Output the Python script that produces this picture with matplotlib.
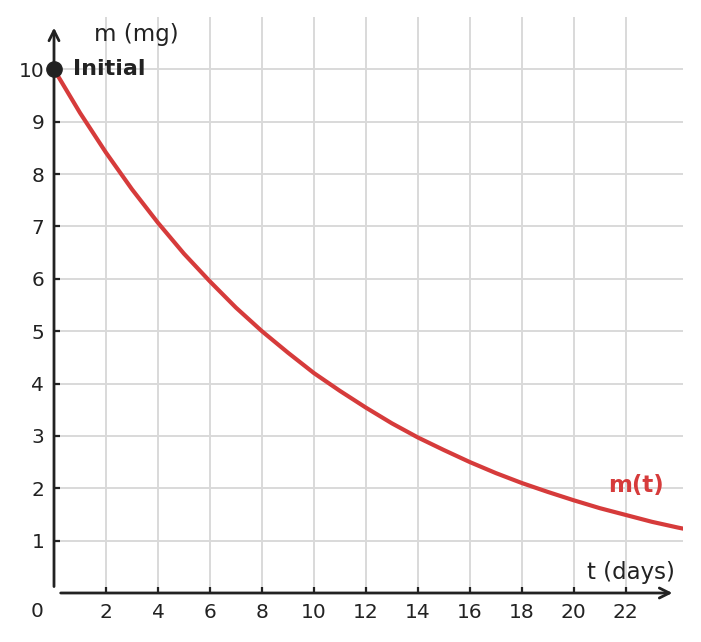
import matplotlib.pyplot as plt

plt.rcParams['font.family'] = ['DejaVu Sans']

# mass at each whole day (last point at the right edge)
t = [0, 1, 2, 3, 4, 5, 6, 7, 8, 9, 10, 11, 12, 13, 14, 15, 16, 17, 18, 19, 20,
     21, 22, 23, 24, 24.2]
m = [10.0, 9.17, 8.41, 7.71, 7.07, 6.48, 5.95, 5.45, 5.0, 4.59, 4.2, 3.86, 3.54,
     3.24, 2.97, 2.73, 2.5, 2.29, 2.1, 1.93, 1.77, 1.62, 1.49, 1.36, 1.25, 1.23]
xticks = [2, 4, 6, 8, 10, 12, 14, 16, 18, 20, 22]
yticks = [1, 2, 3, 4, 5, 6, 7, 8, 9, 10]

red = '#d63b3b'
dark = '#222222'

fig = plt.figure(figsize=(7.01, 6.42), dpi=100)
ax = fig.add_axes([54/701, 49/642, 629/701, 576/642])
ax.set_xlim(0, 24.2)
ax.set_ylim(0, 11)

ax.set_xticks(xticks)
ax.set_yticks(yticks)
ax.grid(True, color='#d9d9d9', linewidth=1.4)
ax.set_axisbelow(True)
for s in ax.spines.values():
    s.set_visible(False)
ax.tick_params(direction='in', length=4, width=1.6, color=dark,
               labelsize=14.5, labelcolor=dark, pad=7)

# axes with arrows
ax.annotate('', xy=(23.9, 0), xytext=(0.15, 0),
            arrowprops=dict(arrowstyle='->', color=dark, lw=2, mutation_scale=18),
            annotation_clip=False)
ax.annotate('', xy=(0, 10.85), xytext=(0, 0.07),
            arrowprops=dict(arrowstyle='->', color=dark, lw=2, mutation_scale=18),
            annotation_clip=False)

ax.plot(t, m, color=red, linewidth=3, clip_on=True, solid_joinstyle='round')
ax.plot([t[0]], [m[0]], 'o', color=dark, markersize=11, clip_on=False, zorder=5)

ax.text(-0.65, -0.36, '0', ha='center', va='center', fontsize=14.5, color=dark)
ax.text(0.75, 10.0, 'Initial', ha='left', va='center', fontsize=16,
        fontweight='bold', color=dark)
ax.text(1.55, 10.66, 'm (mg)', ha='left', va='center', fontsize=16.5, color=dark)
ax.text(23.9, 0.39, 't (days)', ha='right', va='center', fontsize=16.5, color=dark)
ax.text(23.45, 2.05, 'm(t)', ha='right', va='center', fontsize=16.5,
        fontweight='bold', color=red)

fig.savefig('out.png', dpi=100)
